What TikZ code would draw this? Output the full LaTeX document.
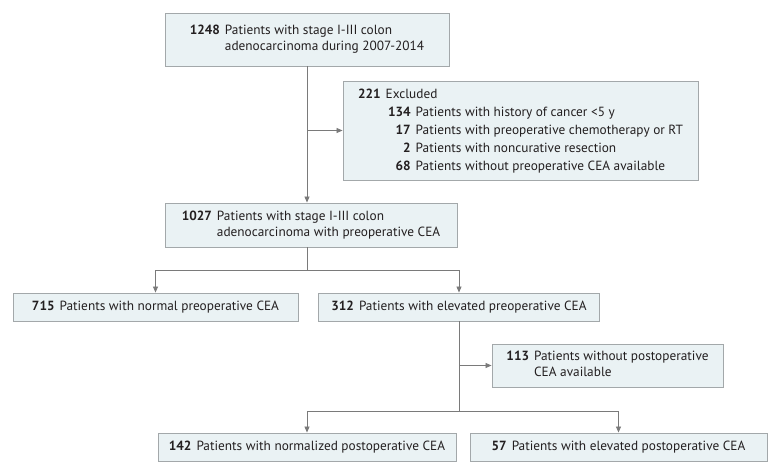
\documentclass[tikz,border=0pt]{standalone}
\usepackage{fontspec}
\setmainfont{PT Sans}
\usetikzlibrary{arrows.meta}
\definecolor{boxfill}{HTML}{EAF2F4}
\definecolor{boxline}{HTML}{A3A8AA}
\definecolor{linkgray}{HTML}{7A7A7A}
\definecolor{txtgray}{HTML}{231F20}
\newcommand\cnt[1]{\textbf{#1}\hspace{5pt}}

\tikzset{
  box/.style={draw=boxline, fill=boxfill, line width=0.9pt, inner sep=0pt,
    font=\fontsize{13.3}{16}\selectfont, text=txtgray},
  link/.style={draw=linkgray, line width=0.8pt},
  arr/.style={link, -{Triangle[length=6pt,width=5pt]}}
}

\begin{document}
\begin{tikzpicture}[x=1pt,y=-1pt]
	\useasboundingbox (0,0) rectangle (780,474);

	% boxes
	\node[box, minimum width=284pt, minimum height=53pt] (n1248) at (307,39.5)
		{\begin{tabular}{@{}r@{\hspace{5pt}}l@{}}
			\textbf{1248} & Patients with stage I-III colon\\
			& adenocarcinoma during 2007-2014
		\end{tabular}};
	\node[box, minimum width=355pt, minimum height=99pt,
		font=\fontsize{13.3}{18}\selectfont] (excl) at (520.5,130.5)
		{\begin{tabular}{@{\hspace{30pt}}r@{\hspace{5pt}}l@{}}
			\multicolumn{2}{@{}l@{}}{\cnt{221}Excluded}\\
			\textbf{134} & Patients with history of cancer <5 y\\
			\textbf{17} & Patients with preoperative chemotherapy or RT\\
			\textbf{2} & Patients with noncurative resection\\
			\textbf{68} & Patients without preoperative CEA available
		\end{tabular}};
	\node[box, minimum width=292pt, minimum height=44pt] (n1027) at (311,225)
		{\begin{tabular}{@{}r@{\hspace{5pt}}l@{}}
			\textbf{1027} & Patients with stage I-III colon\\
			& adenocarcinoma with preoperative CEA
		\end{tabular}};
	\node[box, minimum width=285pt, minimum height=28pt] (n715) at (155.5,307)
		{\cnt{715}Patients with normal preoperative CEA};
	\node[box, minimum width=281pt, minimum height=28pt] (n312) at (459,307)
		{\cnt{312}Patients with elevated preoperative CEA};
	\node[box, minimum width=231pt, minimum height=43pt] (n113) at (607.5,365.5)
		{\begin{tabular}{@{}r@{\hspace{5pt}}l@{}}
			\textbf{113} & Patients without postoperative\\
			& CEA available
		\end{tabular}};
	\node[box, minimum width=298pt, minimum height=28pt] (n142) at (307,447)
		{\cnt{142}Patients with normalized postoperative CEA};
	\node[box, minimum width=297pt, minimum height=28pt] (n57) at (618.5,447)
		{\cnt{57}Patients with elevated postoperative CEA};

	% connectors
	\coordinate (top) at (n1248.south);
	\coordinate (mid) at (n1248.south |- n1027.south);
	\coordinate (split1) at (307,270);
	\coordinate (split2) at (459,411);

	\draw[arr] (top) -- (top |- n1027.north);
	\draw[arr] (top |- excl.west) -- (excl.west);
	\draw[link] (mid) -- (split1);
	\draw[arr] (split1) -| (n715.north);
	\draw[arr] (split1) -| (n312.north);
	\draw[link] (n312.south) -- (split2);
	\draw[arr] (n312.south |- n113.west) -- (n113.west);
	\draw[arr] (split2) -| (n142.north);
	\draw[arr] (split2) -| (n57.north);
\end{tikzpicture}
\end{document}
